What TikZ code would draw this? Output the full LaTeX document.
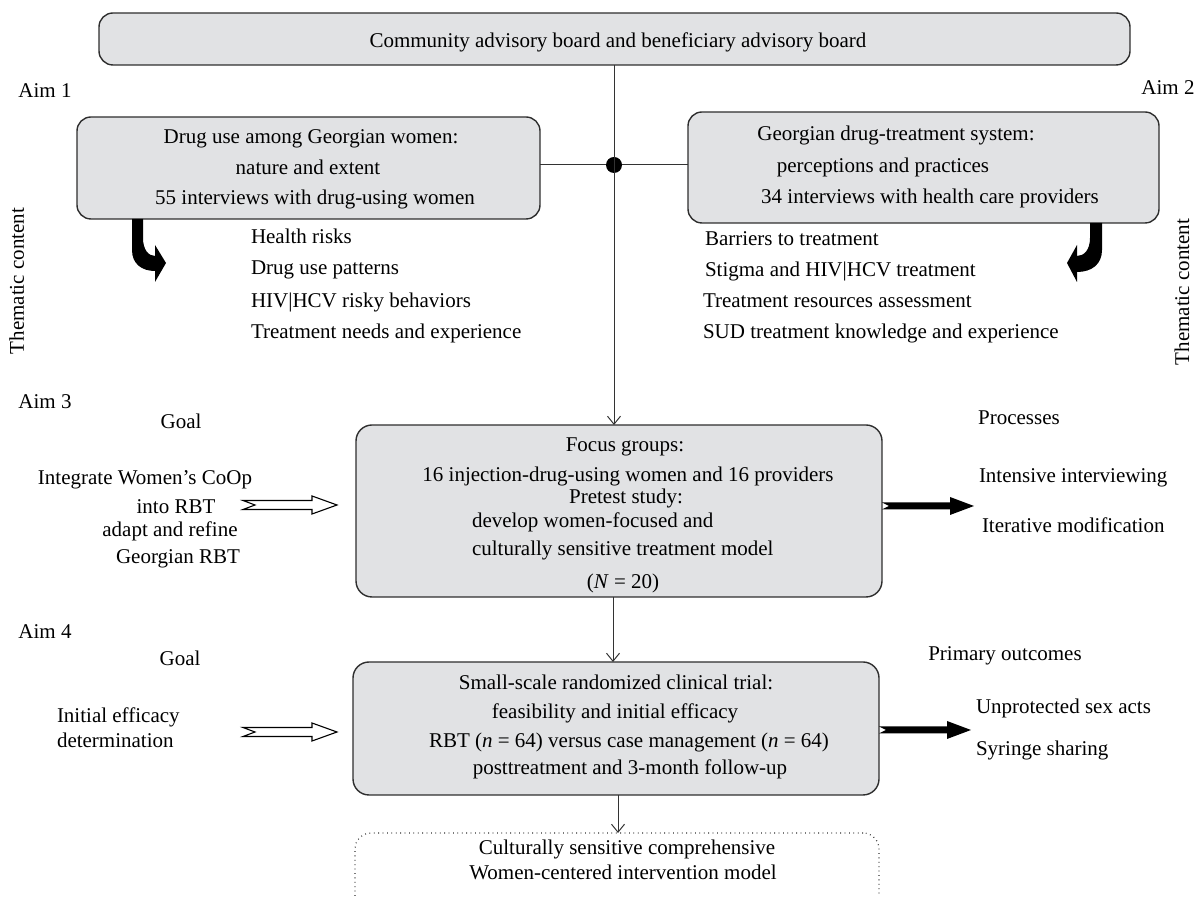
\documentclass[tikz,border=0pt]{standalone}
\usepackage{fontspec}
\setmainfont{Liberation Serif}
\usetikzlibrary{arrows.meta}
\definecolor{boxfill}{HTML}{E1E2E4}
\definecolor{boxline}{HTML}{2E2E2E}
\definecolor{conncol}{HTML}{333333}
\tikzset{
  every node/.style={font=\fontsize{10.5}{12}\selectfont, inner sep=0pt, outer sep=0pt},
  txt/.style={text height=7.5pt, text depth=1.5pt},
  lbox/.style={draw=boxline, line width=0.7pt, fill=boxfill, rounded corners=7pt},
  dbox/.style={draw=conncol, line width=0.6pt, dash pattern=on 0.4pt off 1.8pt, rounded corners=8pt},
  conn/.style={draw=conncol, line width=0.5pt},
  >={Straight Barb[length=4pt,width=6.5pt]},
  openarr/.pic={\draw[line width=0.55pt, fill=white, line join=miter]
     (0,0) -- (-25,-9) -- (-25,-4.5) -- (-94,-4.5) -- (-82,0) -- (-94,4.5) -- (-25,4.5) -- (-25,9) -- cycle;},
  blackarr/.pic={\fill[black]
     (0,-3.5) -- (68,-3.5) -- (68,-9) -- (92,0) -- (68,9) -- (68,3.5) -- (0,3.5) -- (7,0) -- cycle;}
}
\begin{document}
\begin{tikzpicture}[x=0.5pt,y=-0.5pt]
\useasboundingbox (0,0) rectangle (1196,897);
\clip (0,0) rectangle (1196,897);

% boxes
\node[lbox, minimum width=515.5pt, minimum height=26pt] (cab) at (614.5,39) {};
\node[txt] (cabt) at (618,42) {Community advisory board and beneficiary advisory board};

\node[lbox, minimum width=231.5pt, minimum height=51pt] (aim1box) at (308.5,168) {};
\node[txt] (a1l1) at (311,138) {Drug use among Georgian women:};
\node[txt] (a1l2) at (308,169) {nature and extent};
\node[txt] (a1l3) at (315,199) {55 interviews with drug-using women};

\node[lbox, minimum width=235.5pt, minimum height=55.5pt] (aim2box) at (923.5,167.5) {};
\node[txt] (a2l1) at (896,135) {Georgian drug-treatment system:};
\node[txt] (a2l2) at (883,167) {perceptions and practices};
\node[txt] (a2l3) at (930,198) {34 interviews with health care providers};

\node[lbox, rounded corners=8pt, minimum width=263pt, minimum height=86pt] (focus) at (619,511) {};
\node[txt] (f1) at (625,446) {Focus groups:};
\node[txt] (f2) at (628,476) {16 injection-drug-using women and 16 providers};
\node[txt] (f3) at (626,498) {Pretest study:};
\node[txt, anchor=west] (f4) at (472,522) {develop women-focused and};
\node[txt, anchor=west] (f5) at (472,550) {culturally sensitive treatment model};
\node[txt] (f6) at (623,583) {(\textit{N} = 20)};

\node[lbox, rounded corners=8pt, minimum width=263pt, minimum height=66.5pt] (trial) at (616,728.5) {};
\node[txt] (t1) at (616,684) {Small-scale randomized clinical trial:};
\node[txt] (t2) at (615,713) {feasibility and initial efficacy};
\node[txt] (t3) at (629,742) {RBT (\textit{n} = 64) versus case management (\textit{n} = 64)};
\node[txt] (t4) at (630,769) {posttreatment and 3-month follow-up};

\node[dbox, minimum width=262pt, minimum height=45pt] (outbox) at (617,878) {};
\node[txt] (o1) at (627,849) {Culturally sensitive comprehensive};
\node[txt] (o2) at (623,874) {Women-centered intervention model};

% labels
\node[txt] (aim1) at (45,92) {Aim 1};
\node[txt] (aim2) at (1168,89) {Aim 2};
\node[txt] (aim3) at (45,403) {Aim 3};
\node[txt] (aim4) at (45,633) {Aim 4};
\node[txt, rotate=90] (tc1) at (18,281) {Thematic content};
\node[txt, rotate=90] (tc2) at (1183,292) {Thematic content};

% thematic lists
\node[txt, anchor=west] (l1) at (251,238) {Health risks};
\node[txt, anchor=west] (l2) at (251,269) {Drug use patterns};
\node[txt, anchor=west] (l3) at (251,302) {HIV|HCV risky behaviors};
\node[txt, anchor=west] (l4) at (251,333) {Treatment needs and experience};
\node[txt, anchor=west] (r1) at (705,240) {Barriers to treatment};
\node[txt, anchor=west] (r2) at (705,271) {Stigma and HIV|HCV treatment};
\node[txt, anchor=west] (r3) at (703,302) {Treatment resources assessment};
\node[txt, anchor=west] (r4) at (703,333) {SUD treatment knowledge and experience};

% aim 3 side texts
\node[txt] (g3) at (181,423) {Goal};
\node[txt] (g3a) at (145,479) {Integrate Women’s CoOp};
\node[txt] (g3b) at (176,508) {into RBT};
\node[txt] (g3c) at (170,531) {adapt and refine};
\node[txt] (g3d) at (178,558) {Georgian RBT};
\node[txt] (p3) at (1019,419) {Processes};
\node[txt, anchor=west] (p3a) at (979,477) {Intensive interviewing};
\node[txt, anchor=west] (p3b) at (982,527) {Iterative modification};

% aim 4 side texts
\node[txt] (g4) at (180,660) {Goal};
\node[txt, anchor=west] (g4a) at (57,717) {Initial efficacy};
\node[txt, anchor=west] (g4b) at (57,742) {determination};
\node[txt] (p4) at (1005,655) {Primary outcomes};
\node[txt, anchor=west] (p4a) at (976,708) {Unprotected sex acts};
\node[txt, anchor=west] (p4b) at (976,750) {Syringe sharing};

% connectors
\node[circle, fill=black, minimum size=8pt] (dot) at (614,165) {};
\draw[conn] (aim1box.east |- dot) -- (dot) -- (aim2box.west |- dot);
\draw[conn,->] (cab.south -| dot) -- (focus.north -| dot);
\coordinate (c34) at (613,0);
\draw[conn,->] (focus.south -| c34) -- (trial.north -| c34);
\coordinate (c45) at (618,0);
\draw[conn,->] (trial.south -| c45) -- (outbox.north -| c45);

% curved thick arrows
\fill[black] (132,219) -- (132,250) .. controls (132,264) and (142,271) .. (155,271)
  -- (155,282) -- (166,263) -- (155,245) -- (155,256)
  .. controls (148,256) and (143,249) .. (143,238) -- (143,219) -- cycle;
\fill[black] (1102,223) -- (1102,250) .. controls (1102,264) and (1092,272) .. (1077,272)
  -- (1077,282) -- (1067,263) -- (1077,245) -- (1077,256)
  .. controls (1084,256) and (1090,250) .. (1090,238) -- (1090,223) -- cycle;

% block arrows
\pic at (337,505) {openarr};
\pic at (337,732) {openarr};
\pic at (882,506) {blackarr};
\pic at (879,730) {blackarr};
\end{tikzpicture}
\end{document}
